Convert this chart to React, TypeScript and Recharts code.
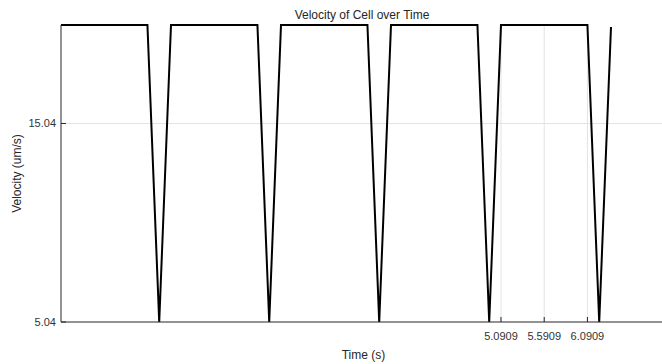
import React from 'react';
import { LineChart, Line, XAxis, YAxis, ReferenceLine, Label } from 'recharts';

const timeS = [0, 1, 1.1364, 1.2727, 2.2727, 2.4091, 2.5455, 3.5455, 3.6818, 3.8182, 4.8182, 4.9545, 5.0909, 6.0909, 6.2273, 6.3636];
const velocity = [20, 20, 5.04, 20, 20, 5.04, 20, 20, 5.04, 20, 20, 5.04, 20, 20, 5.04, 19.9];
const xTicks = [5.0909, 5.5909, 6.0909];
const yTicks = [5.04, 15.04];
const xTickLabels = ['5.0909', '5.5909', '6.0909'];
const yTickLabels = ['5.04', '15.04'];

const data = timeS.map((t, i) => ({ t, v: velocity[i] }));

const FONT = "'Liberation Sans', Arial, Helvetica, sans-serif";
const AXIS = '#262626';
const GRID = '#e3e3e3';

const XTick = (props: any) => {
  const { x, y, payload } = props;
  const idx = xTicks.indexOf(payload.value);
  return (
    <g>
      <line x1={x} x2={x} y1={y} y2={y - 5} stroke={AXIS} strokeWidth={1} />
      <text x={x} y={y + 18} textAnchor="middle" fontSize={11} fill="#333" fontFamily={FONT}>
        {idx >= 0 ? xTickLabels[idx] : String(payload.value)}
      </text>
    </g>
  );
};

const YTick = (props: any) => {
  const { x, y, payload } = props;
  const idx = yTicks.indexOf(payload.value);
  return (
    <g>
      <line x1={x} x2={x + 5} y1={y} y2={y} stroke={AXIS} strokeWidth={1} />
      <text x={x - 5} y={y + 4} textAnchor="end" fontSize={11} fill="#333" fontFamily={FONT}>
        {idx >= 0 ? yTickLabels[idx] : String(payload.value)}
      </text>
    </g>
  );
};

export default function App() {
  return (
    <div style={{ position: 'absolute', left: 0, top: 0, width: 662, height: 364, overflow: 'hidden', background: '#fff' }}>
      <LineChart
        width={666}
        height={364}
        data={data}
        margin={{ top: 25, right: 0, bottom: 0, left: 0 }}
      >
        {yTicks.slice(1).map((v) => (
          <ReferenceLine key={'gy' + v} y={v} stroke={GRID} strokeWidth={1} />
        ))}
        {xTicks.map((v) => (
          <ReferenceLine key={'gx' + v} x={v} stroke={GRID} strokeWidth={1} />
        ))}
        <XAxis
          type="number"
          dataKey="t"
          domain={[0, 7]}
          ticks={xTicks}
          height={42}
          tickSize={0}
          tickMargin={0}
          tickLine={false}
          axisLine={{ stroke: AXIS, strokeWidth: 1 }}
          tick={<XTick />}
          interval={0}
        >
          <Label value="Time (s)" position="insideBottom" offset={5} fontSize={12} fill="#262626" fontFamily={FONT} />
        </XAxis>
        <YAxis
          type="number"
          domain={[5.04, 20]}
          ticks={yTicks}
          width={61}
          tickSize={0}
          tickMargin={0}
          tickLine={false}
          axisLine={{ stroke: AXIS, strokeWidth: 1 }}
          tick={<YTick />}
          interval={0}
        >
          <Label
            value="Velocity (um/s)"
            angle={-90}
            position="insideLeft"
            offset={17}
            fontSize={12}
            fill="#262626"
            fontFamily={FONT}
            style={{ textAnchor: 'middle' }}
          />
        </YAxis>
        <Line
          type="linear"
          dataKey="v"
          stroke="#000"
          strokeWidth={2}
          dot={false}
          isAnimationActive={false}
        />
      </LineChart>
      <svg width={662} height={30} style={{ position: 'absolute', left: 0, top: 0 }}>
        <text x={362} y={19} textAnchor="middle" fontSize={12} fill="#262626" fontFamily={FONT}>
          Velocity of Cell over Time
        </text>
      </svg>
    </div>
  );
}
